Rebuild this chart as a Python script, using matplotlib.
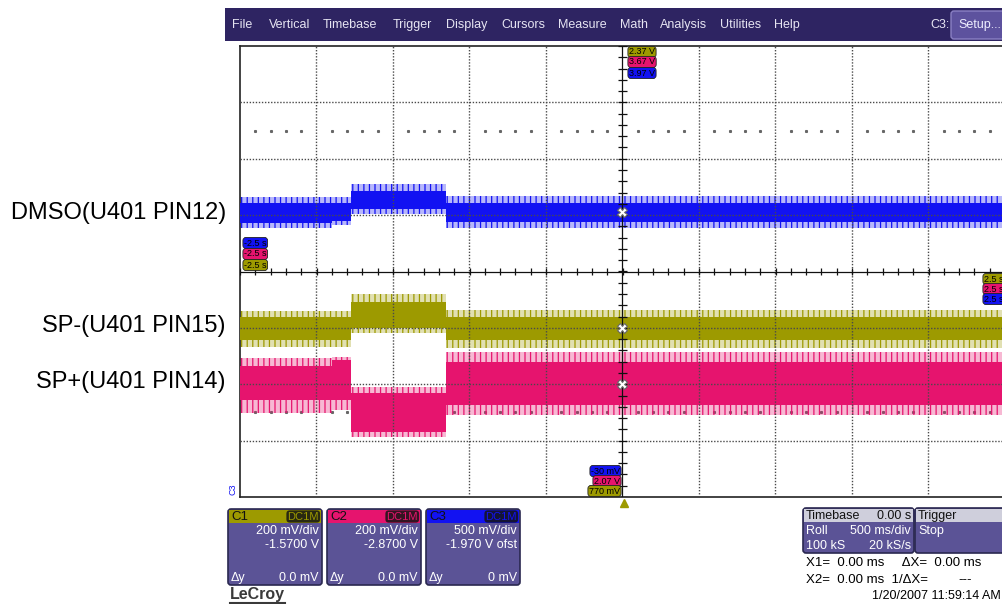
import numpy as np
import matplotlib
matplotlib.use("Agg")
import matplotlib.pyplot as plt
from matplotlib.patches import Rectangle, FancyBboxPatch

plt.rcParams['font.family'] = ['Liberation Sans', 'DejaVu Sans']
plt.rcParams['hatch.linewidth'] = 0.9

# roll window: 10 div x 500 ms/div, segment boundaries in s
seg_t = [-2.5, -1.899, -1.775, -1.154, 2.5]

# C1  SP-(U401 PIN15), volts: dense band and spike envelope per segment
c1_core_hi = [1.409, 1.409, 1.462, 1.409]
c1_core_lo = [1.327, 1.327, 1.370, 1.327]
c1_peak_hi = [1.430, 1.430, 1.490, 1.432]
c1_peak_lo = [1.302, 1.302, 1.352, 1.300]

# C2  SP+(U401 PIN14)
c2_core_hi = [2.535, 2.556, 2.439, 2.549]
c2_core_lo = [2.414, 2.414, 2.301, 2.396]
c2_peak_hi = [2.563, 2.567, 2.460, 2.584]
c2_peak_lo = [2.368, 2.379, 2.283, 2.361]

# C3  DMSO(U401 PIN12)
c3_core_hi = [2.578, 2.578, 2.684, 2.578]
c3_core_lo = [2.400, 2.420, 2.524, 2.409]
c3_peak_hi = [2.631, 2.631, 2.746, 2.640]
c3_peak_lo = [2.355, 2.380, 2.480, 2.355]

# vertical settings (V/div, offset V)
ch_names = ["C1", "C2", "C3"]
ch_scale = [0.2, 0.2, 0.5]
ch_offset = [-1.57, -2.87, -1.97]
ch_colors = ["#9d9a00", "#e6146e", "#1212f2"]
ch_vdiv = ["200 mV/div", "200 mV/div", "500 mV/div"]
ch_ofs_txt = ["-1.5700 V", "-2.8700 V", "-1.970 V ofst"]
ch_dy = ["0.0 mV", "0.0 mV", "0 mV"]

trace_labels = ["DMSO(U401 PIN12)", "SP-(U401 PIN15)", "SP+(U401 PIN14)"]
trace_label_y = [213, 326, 382]

menu_items = ["File", "Vertical", "Timebase", "Trigger", "Display", "Cursors",
              "Measure", "Math", "Analysis", "Utilities", "Help"]
menu_x = [232, 269, 323, 393, 446, 501, 558, 620, 660, 720, 774]

top_marks = ["2.37 V", "3.67 V", "3.97 V"]          # C1, C2, C3
bot_marks = ["-30 mV", "2.07 V", "770 mV"]          # C3, C2, C1

traces = [
    (c1_core_lo, c1_core_hi, c1_peak_lo, c1_peak_hi),
    (c2_core_lo, c2_core_hi, c2_peak_lo, c2_peak_hi),
    (c3_core_lo, c3_core_hi, c3_peak_lo, c3_peak_hi),
]

menu_bg = "#2e2462"
panel_bg = "#5b5396"
W, H = 1003, 604

fig = plt.figure(figsize=(10.03, 6.04), dpi=100)
fig.patch.set_facecolor("white")

# ---- scope grid -------------------------------------------------------
gl, gr, gt, gb = 240, 1005, 46, 497
ax = fig.add_axes([gl / W, (H - gb) / H, (gr - gl) / W, (gb - gt) / H])
ax.set_xlim(-2.5, 2.5)
ax.set_ylim(-4, 4)
ax.set_xticks([])
ax.set_yticks([])
for s in ax.spines.values():
    s.set_color("#222222")
    s.set_linewidth(1.2)

def to_div(v, i):
    return (np.asarray(v) + ch_offset[i]) / ch_scale[i]

t_edges = np.array(seg_t)
for i, (clo, chi, plo, phi) in enumerate(traces):
    col = ch_colors[i]
    st = lambda a: np.append(to_div(a, i), to_div(a, i)[-1])
    # spike fringe: light wash plus vertical strokes
    ax.fill_between(t_edges, st(plo), st(phi), step="post", color=col,
                    alpha=0.3, lw=0, zorder=2)
    ax.fill_between(t_edges, st(plo), st(phi), step="post", facecolor="none",
                    edgecolor=col, hatch="|||", lw=0, zorder=2)
    ax.fill_between(t_edges, st(clo), st(chi), step="post", color=col,
                    lw=0, zorder=3)

# dotted grid on top of the traces
grid_kw = dict(color="#4a4a4a", lw=1.0, ls=(0, (1, 1.2)), zorder=5)
for k in range(1, 10):
    tx = -2.5 + 0.5 * k
    if abs(tx) > 1e-9:
        ax.axvline(tx, **grid_kw)
for d in range(-3, 4):
    if d != 0:
        ax.axhline(d, **grid_kw)

# centre axes with minor ticks
ax.axhline(0, color="#111111", lw=0.9, zorder=6)
ax.axvline(0, color="#111111", lw=0.9, zorder=6)
tt = np.arange(-2.5, 2.51, 0.1)
ax.vlines(tt, -0.06, 0.06, color="#111111", lw=0.9, zorder=6)
dd = np.arange(-4, 4.01, 0.2)
ax.hlines(dd, -0.03, 0.03, color="#111111", lw=0.9, zorder=6)

# dot rows (behind the traces)
dots = np.array([x for x in tt if abs(round(x / 0.5) * 0.5 - x) > 1e-6])
for yy in (2.5, -2.5):
    ax.plot(dots, np.full_like(dots, yy), ls="none", marker="s", ms=1.2,
            color="#666666", zorder=1)

# trace markers at t=0
for i, (clo, chi, plo, phi) in enumerate(traces):
    lvl = (to_div(clo, i)[-1] + to_div(chi, i)[-1]) / 2
    ax.plot(0, lvl, marker="X", ms=7, mfc="white", mec="#666666", mew=0.8,
            zorder=7)

# ---- UI overlay in pixels ------------------------------------------------
ui = fig.add_axes([0, 0, 1, 1], zorder=10)
ui.set_xlim(0, W)
ui.set_ylim(H, 0)
ui.axis("off")

ui.add_patch(Rectangle((225, 8), W - 225, 33, color=menu_bg, lw=0))
for s, x in zip(menu_items, menu_x):
    ui.text(x, 25, s, color="#e6e4f2", fontsize=9, va="center")
ui.text(930, 25, "C3:", color="#e6e4f2", fontsize=9, va="center")
ui.add_patch(FancyBboxPatch((951, 11), 60, 28, boxstyle="round,pad=0,rounding_size=3",
                            fc="#5d529e", ec="#8a80c4", lw=1))
ui.text(958, 25, "Setup...", color="#eeeeff", fontsize=9, va="center")

for s, y in zip(trace_labels, trace_label_y):
    ui.text(226, y, s, fontsize=17, ha="right", va="center", color="black")

def tag(x, y, s, col, ha="left"):
    ui.text(x, y, s, fontsize=6.5, ha=ha, va="center", color="black",
            bbox=dict(boxstyle="round,pad=0.12,rounding_size=0.35", fc=col,
                      ec="#222222", lw=0.6))

for s, y, c in zip(["-2.5 s"] * 3, [243, 254, 265], [2, 1, 0]):
    tag(244, y, s, ch_colors[c])
for s, y, c in zip(["2.5 s"] * 3, [279, 289, 299], [0, 1, 2]):
    tag(984, y, s, ch_colors[c])
for s, y, c in zip(top_marks, [52, 62, 73], [0, 1, 2]):
    tag(629, y, s, ch_colors[c])
for s, y, c in zip(bot_marks, [471, 481, 491], [2, 1, 0]):
    tag(620, y, s, ch_colors[c], ha="right")
ui.plot(624, 503, marker="^", ms=6, color=ch_colors[0])
ui.text(233, 489, "C3", fontsize=6.5, rotation=90, color=ch_colors[2],
        ha="center", va="center")

# channel panels
for i in range(3):
    x0 = 228 + i * 99
    ui.add_patch(FancyBboxPatch((x0, 509), 94, 76, boxstyle="round,pad=0,rounding_size=3",
                                fc=panel_bg, ec="#2a2850", lw=1.2))
    ui.add_patch(Rectangle((x0 + 1, 510), 92, 13, color=ch_colors[i], lw=0))
    ui.text(x0 + 3, 516.5, ch_names[i], fontsize=9.5, va="center", color="#111111")
    ui.text(x0 + 91, 516.5, "DC1M", fontsize=8, va="center", ha="right",
            color=ch_colors[i],
            bbox=dict(boxstyle="round,pad=0.1,rounding_size=0.3", fc="#151515",
                      ec="none", alpha=0.85))
    ui.text(x0 + 91, 531, ch_vdiv[i], fontsize=9, ha="right", va="center", color="white")
    ui.text(x0 + 91, 545, ch_ofs_txt[i], fontsize=9, ha="right", va="center", color="white")
    ui.text(x0 + 3, 578, "Δy", fontsize=9, va="center", color="white")
    ui.text(x0 + 91, 578, ch_dy[i], fontsize=9, ha="right", va="center", color="white")

ui.text(230, 595, "LeCroy", fontsize=11.5, fontweight="bold", color="#3a3a3a",
        va="center")
ui.plot([230, 285], [603, 603], color="#3a3a3a", lw=1.5)

# timebase / trigger boxes
for x0, w in ((803, 111), (915, 100)):
    ui.add_patch(FancyBboxPatch((x0, 508), w, 45, boxstyle="round,pad=0,rounding_size=3",
                                fc=panel_bg, ec="#2a2850", lw=1.2))
    ui.add_patch(Rectangle((x0 + 1, 509), w - 2, 13, color="#cfcfdc", lw=0))
ui.text(806, 516, "Timebase", fontsize=9, va="center", color="#111111")
ui.text(911, 516, "0.00 s", fontsize=9, va="center", ha="right", color="#111111")
ui.text(806, 531, "Roll", fontsize=9, va="center", color="white")
ui.text(911, 531, "500 ms/div", fontsize=9, va="center", ha="right", color="white")
ui.text(806, 546, "100 kS", fontsize=9, va="center", color="white")
ui.text(911, 546, "20 kS/s", fontsize=9, va="center", ha="right", color="white")
ui.text(918, 516, "Trigger", fontsize=9, va="center", color="#111111")
ui.text(918, 531, "Stop", fontsize=9, va="center", color="white")

ui.text(806, 563, "X1=  0.00 ms     ΔX=  0.00 ms", fontsize=9.5, va="center")
ui.text(806, 580, "X2=  0.00 ms  1/ΔX=", fontsize=9.5, va="center")
ui.text(958, 580, "---", fontsize=9.5, va="center")
ui.text(1001, 596, "1/20/2007 11:59:14 AM", fontsize=9, va="center", ha="right")

fig.savefig("out.png", dpi=100)
